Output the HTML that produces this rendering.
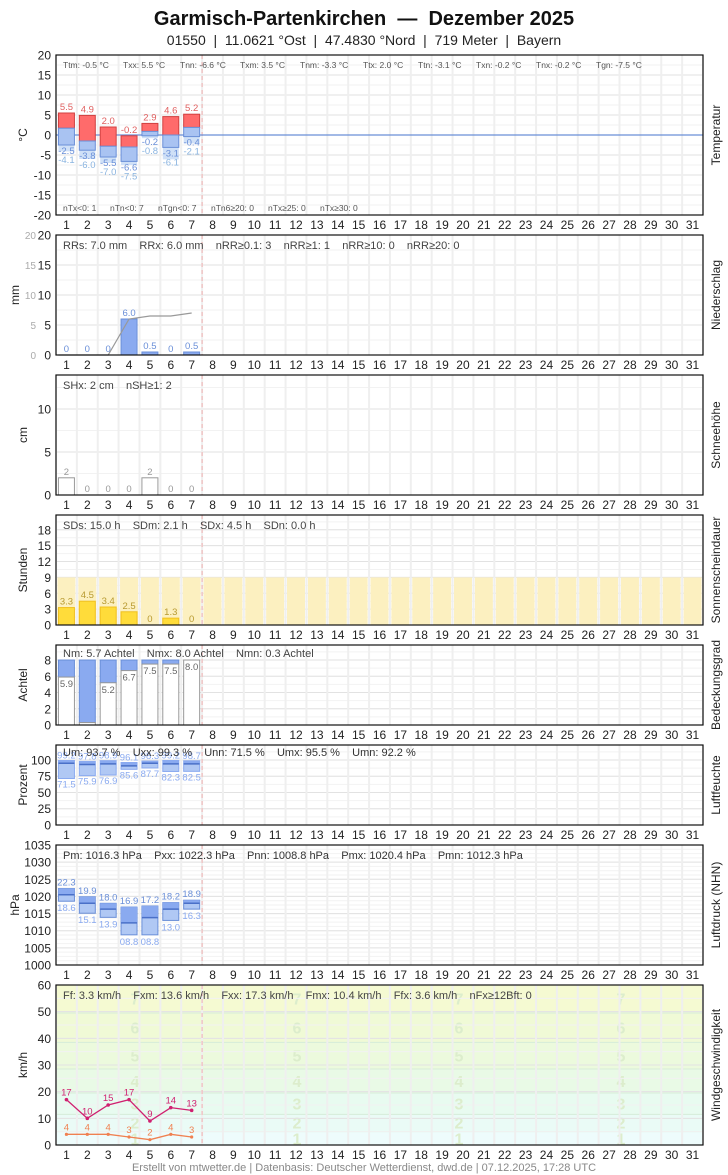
<!DOCTYPE html>
<html><head><meta charset="utf-8"><style>
html,body{margin:0;padding:0;background:#fff;}
svg{display:block;font-family:"Liberation Sans",sans-serif;}
</style></head><body>
<svg id="s" width="728" height="1175" xmlns="http://www.w3.org/2000/svg"></svg>
<script>
var X0=56,X1=703,CW=(X1-X0)/31;
function cx(d){return X0+(d-0.5)*CW;}
var o=[];
function t(x,y,s,sz,fill,anchor,extra){o.push('<text x="'+x+'" y="'+y+'" font-size="'+sz+'" fill="'+(fill||'#222')+'" text-anchor="'+(anchor||'start')+'" '+(extra||'')+'>'+s+'</text>');}
function r(x,y,w,h,f,st,sw){if(h<0){y+=h;h=-h;}o.push('<rect x="'+x+'" y="'+y+'" width="'+w+'" height="'+h+'" fill="'+f+'"'+(st?' stroke="'+st+'" stroke-width="'+(sw||1)+'"':'')+'/>');}
function l(x1,y1,x2,y2,c,w,ex){o.push('<line x1="'+x1+'" y1="'+y1+'" x2="'+x2+'" y2="'+y2+'" stroke="'+c+'" stroke-width="'+(w||1)+'" '+(ex||'')+'/>');}
t(364,25,'Garmisch-Partenkirchen  —  Dezember 2025',20,'#111','middle','font-weight="bold" xml:space="preserve"');
t(364,45,'01550  |  11.0621 °Ost  |  47.4830 °Nord  |  719 Meter  |  Bayern',14,'#222','middle','xml:space="preserve"');

function panel(top,bot,vmin,vmax,ticks,ylab,rlab,minor,bg,ylx){
  var f=function(v){return bot-(v-vmin)/(vmax-vmin)*(bot-top);};
  if(bg)bg(f);
  for(var v=vmin;v<=vmax+1e-9;v+=minor){l(X0,f(v),X1,f(v),'#f2f2f2',1);}
  ticks.forEach(function(v){l(X0,f(v),X1,f(v),'#e2e2e2',1);t(51,f(v)+4.5,(''+v),12,'#222','end');});
  for(var d=0;d<=31;d++){l(X0+d*CW,top,X0+d*CW,bot,'#efefef',2);}
  l(X0+7*CW,top,X0+7*CW,bot,'#f0b0b0',1,'stroke-dasharray="4,3"');
  for(var d=1;d<=31;d++)t(cx(d),bot+14,d,12,'#222','middle');
  t(0,0,ylab,12,'#222','middle','transform="translate('+(ylx||27)+','+((top+bot)/2)+') rotate(-90)"');
  t(0,0,rlab,12,'#222','middle','transform="translate(720,'+((top+bot)/2)+') rotate(-90)"');
  return f;
}
function frame(top,bot){o.push('<rect x="'+X0+'" y="'+top+'" width="'+(X1-X0)+'" height="'+(bot-top)+'" fill="none" stroke="#111" stroke-width="1.2"/>');}
var BW=16;
// ---------- Temperature
(function(){
 var f=panel(55,215,-20,20,[20,15,10,5,0,-5,-10,-15,-20],'°C','Temperatur',2.5);
 l(X0,f(0),X1,f(0),'#6a8fd8',1.2);
 var tx=[5.5,4.9,2.0,-0.2,2.9,4.6,5.2],tm=[1.7,-1.5,-2.8,-3.0,0.9,0.0,1.9],tn=[-2.5,-3.8,-5.5,-6.6,-0.2,-3.1,-0.4],tg=[-4.1,-6.0,-7.0,-7.5,-0.8,-6.1,-2.1];
 for(var i=0;i<7;i++){var x=cx(i+1)-BW/2;
  r(x,f(tn[i]),BW,f(tg[i])-f(tn[i]),'#cfe0f7');
  r(x,f(tx[i]),BW,f(tm[i])-f(tx[i]),'#ff6b6b','#d04040');
  r(x,f(tm[i]),BW,f(tn[i])-f(tm[i]),'#a9c3f2','#6a8fd8');
  t(cx(i+1),f(tx[i])-3,tx[i].toFixed(1),9.5,'#e06060','middle');
  t(cx(i+1),f(tn[i])+9,tn[i].toFixed(1),9.5,'#6a8fd8','middle');
  t(cx(i+1),f(tn[i])+18,tg[i].toFixed(1),9.5,'#8ab4e0','middle');
 }
 var st=[['Ttm: -0.5 °C',63],['Txx: 5.5 °C',123],['Tnn: -6.6 °C',180],['Txm: 3.5 °C',240],['Tnm: -3.3 °C',300],['Ttx: 2.0 °C',363],['Ttn: -3.1 °C',418],['Txn: -0.2 °C',476],['Tnx: -0.2 °C',536],['Tgn: -7.5 °C',596]];
 st.forEach(function(a){t(a[1],68,a[0],8.5,'#555');});
 [['nTx&lt;0: 1',63],['nTn&lt;0: 7',110],['nTgn&lt;0: 7',158],['nTn6≥20: 0',211],['nTx≥25: 0',268],['nTx≥30: 0',320]].forEach(function(a){t(a[1],211,a[0],8.5,'#555');});
 frame(55,215);
})();
// ---------- Precip
(function(){
 var f=panel(235,355,0,20,[20,15,10,5,0],'mm','Niederschlag',2.5,null,19);
 [20,15,10,5,0].forEach(function(v){t(36,f(v)+4,v,10,'#aaa','end');});
 var p=[0,0,0,6.0,0.5,0,0.5];
 for(var i=0;i<7;i++){var x=cx(i+1)-BW/2; if(p[i]>0)r(x,f(p[i]),BW,f(0)-f(p[i]),'#8aaaf0','#6a8fd8');
  t(cx(i+1),f(p[i])-3,(p[i]==0?'0':p[i].toFixed(1)),9.5,'#6a8fd8','middle');}
 o.push('<polyline points="'+[cx(1)-8,f(0),cx(3),f(0),cx(4),f(6),cx(5),f(6.5),cx(6),f(6.5),cx(7),f(7)].join(',')+'" fill="none" stroke="#999" stroke-width="1.2"/>');
 t(63,249,'RRs: 7.0 mm    RRx: 6.0 mm    nRR≥0.1: 3    nRR≥1: 1    nRR≥10: 0    nRR≥20: 0',11,'#444','start','xml:space="preserve"');
 frame(235,355);
})();
// ---------- Snow
(function(){
 var f=panel(375,495,0,13.95,[10,5,0],'cm','Schneehöhe',2.5);
 var s=[2,0,0,0,2,0,0];
 for(var i=0;i<7;i++){if(s[i]>0)r(cx(i+1)-BW/2,f(s[i]),BW,f(0)-f(s[i]),'#fff','#999');
  t(cx(i+1),f(s[i])-3,s[i],9.5,'#999','middle');}
 t(63,389,'SHx: 2 cm    nSH≥1: 2',11,'#444','start','xml:space="preserve"');
 frame(375,495);
})();
// ---------- Sun
(function(){
 var f=panel(515,625,0,20.8,[18,15,12,9,6,3,0],'Stunden','Sonnenscheindauer',1.5);
 var s=[3.3,4.5,3.4,2.5,0,1.3,0];
 for(var d=1;d<=31;d++)r(cx(d)-BW/2-1,f(9),BW+2,f(0)-f(9),'#fcf0c0');
 for(var i=0;i<7;i++){if(s[i]>0)r(cx(i+1)-BW/2,f(s[i]),BW,f(0)-f(s[i]),'#ffdc3a','#f0c020');
  t(cx(i+1),f(s[i])-3,(s[i]==0?'0':s[i].toFixed(1)),9.5,'#b89a30','middle');}
 t(63,529,'SDs: 15.0 h    SDm: 2.1 h    SDx: 4.5 h    SDn: 0.0 h',11,'#444','start','xml:space="preserve"');
 frame(515,625);
})();
// ---------- Cloud
(function(){
 var f=panel(645,725,0,9.85,[8,6,4,2,0],'Achtel','Bedeckungsgrad',1);
 var c=[5.9,0.3,5.2,6.7,7.5,7.5,8.0];
 for(var i=0;i<7;i++){var x=cx(i+1)-BW/2;
  r(x,f(8),BW,f(c[i])-f(8),'#8aaaf0','#6a8fd8');
  r(x,f(c[i]),BW,f(0)-f(c[i]),'#fff','#999');
  t(cx(i+1),f(c[i])+10,c[i].toFixed(1),9.5,(c[i]<1?'#fff':'#666'),'middle',(c[i]<1?'font-weight="bold"':''));}
 t(63,657,'Nm: 5.7 Achtel    Nmx: 8.0 Achtel    Nmn: 0.3 Achtel',11,'#444','start','xml:space="preserve"');
 frame(645,725);
})();
// ---------- Humidity
(function(){
 var f=panel(745,825,0,123,[100,75,50,25,0],'Prozent','Luftfeuchte',12.5);
 var mx=[99.2,97.8,98.9,96.1,98.3,99.2,98.7],mn=[71.5,75.9,76.9,85.6,87.7,82.3,82.5],mm=[95,93,94,91,95,94,94];
 for(var i=0;i<7;i++){var x=cx(i+1)-BW/2;
  r(x,f(mx[i]),BW,f(mn[i])-f(mx[i]),'#b0c8f4','#8aaaf0');
  r(x,f(mx[i]),BW,f(mm[i])-f(mx[i]),'#8aaaf0');
  l(x,f(mm[i]),x+BW,f(mm[i]),'#4a70c8',1.5);
  t(cx(i+1),f(mx[i])-2,mx[i].toFixed(1),9.5,'#8aaaf0','middle');
  t(cx(i+1),f(mn[i])+9,mn[i].toFixed(1),9.5,'#8aaaf0','middle');}
 t(63,756,'Um: 93.7 %    Uxx: 99.3 %    Unn: 71.5 %    Umx: 95.5 %    Umn: 92.2 %',11,'#333','start','xml:space="preserve"');
 frame(745,825);
})();
// ---------- Pressure
(function(){
 var f=panel(845,965,1000,1035,[1035,1030,1025,1020,1015,1010,1005,1000],'hPa','Luftdruck (NHN)',1.25,null,19);
 var mx=[1022.3,1019.9,1018.0,1016.9,1017.2,1018.2,1018.9],mn=[1018.6,1015.1,1013.9,1008.8,1008.8,1013.0,1016.3],mm=[1020.5,1018,1016.3,1012.3,1013.8,1016.3,1018];
 for(var i=0;i<7;i++){var x=cx(i+1)-BW/2;
  r(x,f(mx[i]),BW,f(mn[i])-f(mx[i]),'#b0c8f4','#6a8fd8');
  r(x,f(mx[i]),BW,f(mm[i])-f(mx[i]),'#8aaaf0');
  l(x,f(mm[i]),x+BW,f(mm[i]),'#4a70c8',1.5);
  t(cx(i+1),f(mx[i])-3,(mx[i]-1000).toFixed(1),9.5,'#6a8fd8','middle');
  t(cx(i+1),f(mn[i])+10,(mn[i]-1000).toFixed(1).padStart(4,'0'),9.5,'#8aaaf0','middle');}
 t(63,859,'Pm: 1016.3 hPa    Pxx: 1022.3 hPa    Pnn: 1008.8 hPa    Pmx: 1020.4 hPa    Pmn: 1012.3 hPa',11,'#333','start','xml:space="preserve"');
 frame(845,965);
})();
// ---------- Wind
(function(){
 var bg=function(f){
  var b=[[0,5,'#eefcfc'],[5,11.5,'#eafbf6'],[11.5,19.5,'#e8fbf0'],[19.5,28.5,'#e9fae6'],[28.5,38.5,'#ecfadd'],[38.5,49.5,'#f0fad6'],[49.5,60,'#f5fad2']];
  b.forEach(function(a){r(X0,f(a[1]),X1-X0,f(a[0])-f(a[1]),a[2]);});
  [5,11.5,19.5,28.5,38.5,49.5].forEach(function(v){l(X0,f(v),X1,f(v),'#d6ecd8',1);});
  var cols=[135,297,459,621];var mid=[2.5,8.5,15.5,24,33.5,44,55];
  cols.forEach(function(x){for(var k=0;k<7;k++)t(x,f(mid[k])+6,k+1,16,'#dcedcc','middle','font-weight="bold"');});
 };
 var f=panel(985,1145,0,60,[60,50,40,30,20,10,0],'km/h','Windgeschwindigkeit',5,bg);
 var fx=[17,10,15,17,9,14,13],ff=[4,4,4,3,2,4,3];
 var p1=[],p2=[];for(var i=0;i<7;i++){p1.push(cx(i+1),f(fx[i]));p2.push(cx(i+1),f(ff[i]));}
 o.push('<polyline points="'+p1.join(',')+'" fill="none" stroke="#d02070" stroke-width="1.3"/>');
 o.push('<polyline points="'+p2.join(',')+'" fill="none" stroke="#f08050" stroke-width="1.3"/>');
 for(var i=0;i<7;i++){o.push('<circle cx="'+cx(i+1)+'" cy="'+f(fx[i])+'" r="1.8" fill="#d02070"/><circle cx="'+cx(i+1)+'" cy="'+f(ff[i])+'" r="1.6" fill="#f08050"/>');
  t(cx(i+1),f(fx[i])-4,fx[i],9.5,'#d02070','middle');t(cx(i+1),f(ff[i])-4,ff[i],9.5,'#f08050','middle');}
 t(63,999,'Ff: 3.3 km/h    Fxm: 13.6 km/h    Fxx: 17.3 km/h    Fmx: 10.4 km/h    Ffx: 3.6 km/h    nFx≥12Bft: 0',11,'#444','start','xml:space="preserve"');
 frame(985,1145);
})();
t(364,1171,'Erstellt von mtwetter.de | Datenbasis: Deutscher Wetterdienst, dwd.de | 07.12.2025, 17:28 UTC',11,'#888','middle');
document.getElementById('s').innerHTML=o.join('');
</script>
</body></html>
